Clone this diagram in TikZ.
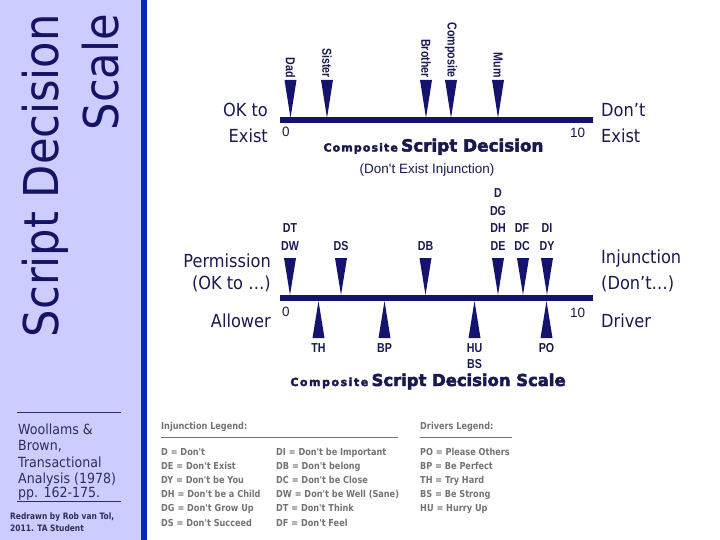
\documentclass[tikz,border=0pt]{standalone}
\usepackage{fontspec}
\newfontfamily\tahoma[FakeStretch=0.9]{DejaVu Sans}
\newfontfamily\arialf{Liberation Sans}
\newfontfamily\nbold[FakeStretch=0.82]{Liberation Sans}
\newfontfamily\legf[FakeStretch=0.85]{DejaVu Sans}
\newfontfamily\blackf[FakeBold=3]{DejaVu Sans}
\newfontfamily\blackspA[FakeBold=3,LetterSpace=10]{DejaVu Sans}
\newfontfamily\blackspB[FakeBold=3,LetterSpace=14]{DejaVu Sans}
\definecolor{navy}{RGB}{20,20,110}
\definecolor{ink}{RGB}{25,25,80}
\definecolor{titleink}{RGB}{20,20,100}
\definecolor{lav}{RGB}{204,204,255}
\definecolor{strip}{RGB}{0,40,190}
\definecolor{lgrey}{RGB}{115,115,115}
\definecolor{sideink}{RGB}{45,45,95}
\tikzset{
  lab/.style={inner sep=0pt, text=ink, font=\tahoma\fontsize{18}{20}\selectfont},
  num/.style={inner sep=0pt, text=ink, font=\arialf\fontsize{13.5}{15}\selectfont},
  mk/.style={inner sep=0pt, text=ink, font=\nbold\bfseries\fontsize{13}{15}\selectfont},
  leg/.style={inner sep=0pt, anchor=base west, text=lgrey, font=\legf\bfseries\fontsize{9.6}{11}\selectfont},
  sidetxt/.style={inner sep=0pt, anchor=base west, text=sideink, font=\tahoma\fontsize{14}{16}\selectfont},
  sidesmall/.style={inner sep=0pt, anchor=base west, text=sideink, font=\legf\bfseries\fontsize{8.8}{10}\selectfont},
  bigtitle/.style={inner sep=0pt, text=titleink, rotate=90, anchor=base east, font=\tahoma\fontsize{48}{50}\selectfont},
  scalebar/.style={fill=navy},
  tri/.style={fill=navy},
  rule/.style={draw=lgrey, line width=0.8pt},
  siderule/.style={draw=sideink, line width=0.8pt},
}
\newcommand\dtri[3]{\fill[tri] (#1-6,#2) -- (#1+6,#2) -- (#1,#3) -- cycle;}
\newcommand\utri[3]{\fill[tri] (#1-6,#2) -- (#1+6,#2) -- (#1,#3) -- cycle;}
% #1 font family of "Composite", #2 size of the main words, #3 main words
\newcommand\comptitle[3]{{#1\bfseries\fontsize{11}{13}\selectfont Composite} {\blackf\bfseries\fontsize{#2}{17}\selectfont #3}}
\begin{document}
\begin{tikzpicture}[x=1pt,y=-1pt]
\useasboundingbox (0,0) rectangle (720,540);
% sidebar
\fill[lav] (0,0) rectangle (141,540);
\fill[strip] (141,0) rectangle (147,540);
\node[bigtitle] (t1) at (58,14) {Script Decision};
\node[bigtitle] (t2) at (118,14) {Scale};
\coordinate (r1a) at (17,412); \coordinate (r1b) at (121,412);
\draw[siderule] (r1a) -- (r1b);
\node[sidetxt] (s1) at (18,434) {Woollams \&};
\node[sidetxt] (s2) at (18,450) {Brown,};
\node[sidetxt] (s3) at (18,467) {Transactional};
\node[sidetxt] (s4) at (18,483) {Analysis (1978)};
\node[sidetxt] (s5) at (18,497) {pp. 162-175.};
\coordinate (r2a) at (17,501); \coordinate (r2b) at (121,501);
\draw[siderule] (r2a) -- (r2b);
\node[sidesmall] (s6) at (10,519) {Redrawn by Rob van Tol,};
\node[sidesmall] (s7) at (10,531) {2011. TA Student};

% top scale
\fill[scalebar] (280,117.5) rectangle (593,123);
\dtri{290.5}{80}{118}
\dtri{327}{80}{118}
\dtri{426}{80}{118}
\dtri{451}{80}{118}
\dtri{498}{80}{118}
\node[mk, rotate=-90, anchor=east] (dad) at (290.5,78) {Dad};
\node[mk, rotate=-90, anchor=east] (sis) at (327,78) {Sister};
\node[mk, rotate=-90, anchor=east] (bro) at (426,78) {Brother};
\node[mk, rotate=-90, anchor=east] (comp) at (451,78) {Composite};
\node[mk, rotate=-90, anchor=east] (mum) at (498,78) {Mum};
\node[lab, anchor=base east] (ok1) at (268,117) {OK to};
\node[lab, anchor=base east] (ex1) at (268,143) {Exist};
\node[lab, anchor=base west] (dn1) at (601,117) {Don’t};
\node[lab, anchor=base west] (ex2) at (601,143) {Exist};
\node[num, anchor=base west] (z1) at (282,137) {0};
\node[num, anchor=base west] (ten1) at (570,138) {10};
\node[inner sep=0pt, anchor=base, text=ink] (ct1) at (433.5,151.5) {\comptitle{\blackspA}{16.8}{Script Decision}};
\node[inner sep=0pt, anchor=base, text=ink, font=\arialf\fontsize{13.5}{16}\selectfont] (sub1) at (427,174) {(Don't Exist Injunction)};

% lower scale
\fill[scalebar] (280,295) rectangle (593,301);
\dtri{290}{258}{295}
\dtri{341}{258}{295}
\dtri{425.5}{258}{295}
\dtri{498}{258}{295}
\dtri{523}{258}{295}
\dtri{547}{258}{295}
\utri{318.5}{338}{301}
\utri{384.5}{338}{301}
\utri{474.5}{338}{301}
\utri{546.5}{338}{301}
\node[mk, anchor=base] (dt) at (290,233) {DT};
\node[mk, anchor=base] (dw) at (290,250) {DW};
\node[mk, anchor=base] (ds) at (341,250) {DS};
\node[mk, anchor=base] (db) at (425.5,250) {DB};
\node[mk, anchor=base] (d) at (498,198) {D};
\node[mk, anchor=base] (dg) at (498,215.5) {DG};
\node[mk, anchor=base] (dh) at (498,233) {DH};
\node[mk, anchor=base] (de) at (498,250) {DE};
\node[mk, anchor=base] (df) at (522,233) {DF};
\node[mk, anchor=base] (dc) at (522,250) {DC};
\node[mk, anchor=base] (di) at (547,233) {DI};
\node[mk, anchor=base] (dy) at (547,250) {DY};
\node[mk, anchor=base] (th) at (318.5,352) {TH};
\node[mk, anchor=base] (bp) at (384.5,352) {BP};
\node[mk, anchor=base] (hu) at (474.5,352) {HU};
\node[mk, anchor=base] (bs) at (474.5,368.5) {BS};
\node[mk, anchor=base] (po) at (546.5,352) {PO};
\node[lab, anchor=base east] (perm) at (271,267) {Permission};
\node[lab, anchor=base east] (okto) at (271,289) {(OK to …)};
\node[lab, anchor=base east] (allo) at (271,327) {Allower};
\node[lab, anchor=base west] (inj) at (601,263) {Injunction};
\node[lab, anchor=base west] (dont) at (601,289) {(Don’t…)};
\node[lab, anchor=base west] (drv) at (601,327) {Driver};
\node[num, anchor=base west] (z2) at (282,316) {0};
\node[num, anchor=base west] (ten2) at (570,317) {10};
\node[inner sep=0pt, anchor=base, text=ink] (ct2) at (428,386) {\comptitle{\blackspB}{16.4}{Script Decision Scale}};

% legend
\node[leg] (ilh) at (161,429) {Injunction Legend:};
\coordinate (l1a) at (161,437.5); \coordinate (l1b) at (398,437.5);
\draw[rule] (l1a) -- (l1b);
\node[leg] (dlh) at (420,429) {Drivers Legend:};
\coordinate (l2a) at (420,437.5); \coordinate (l2b) at (512,437.5);
\draw[rule] (l2a) -- (l2b);
\node[leg] (a1) at (161,455) {D = Don't};
\node[leg] (a2) at (161,469.2) {DE = Don't Exist};
\node[leg] (a3) at (161,483.4) {DY = Don't be You};
\node[leg] (a4) at (161,497.6) {DH = Don't be a Child};
\node[leg] (a5) at (161,511.8) {DG = Don't Grow Up};
\node[leg] (a6) at (161,526) {DS = Don't Succeed};
\node[leg] (b1) at (276,455) {DI = Don't be Important};
\node[leg] (b2) at (276,469.2) {DB = Don't belong};
\node[leg] (b3) at (276,483.4) {DC = Don't be Close};
\node[leg] (b4) at (276,497.6) {DW = Don't be Well (Sane)};
\node[leg] (b5) at (276,511.8) {DT = Don't Think};
\node[leg] (b6) at (276,526) {DF = Don't Feel};
\node[leg] (c1) at (420,455) {PO = Please Others};
\node[leg] (c2) at (420,469.2) {BP = Be Perfect};
\node[leg] (c3) at (420,483.4) {TH = Try Hard};
\node[leg] (c4) at (420,497.6) {BS = Be Strong};
\node[leg] (c5) at (420,511.8) {HU = Hurry Up};
\end{tikzpicture}
\end{document}
